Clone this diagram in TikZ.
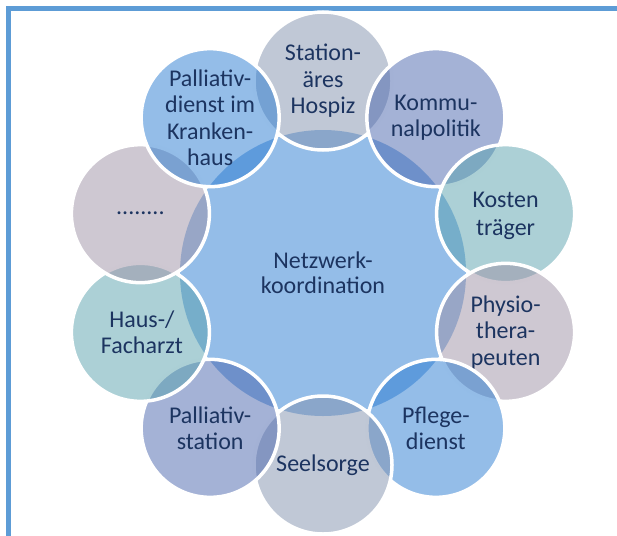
\documentclass[tikz,border=0pt]{standalone}
\usepackage{fontspec}
\setmainfont{Carlito}
\usetikzlibrary{calc}
\definecolor{framec}{RGB}{93,156,214}
\definecolor{navy}{RGB}{28,52,96}
\definecolor{cblue}{RGB}{41,123,209}
\definecolor{cgray}{RGB}{129,145,173}
\definecolor{cviolet}{RGB}{73,101,173}
\definecolor{cteal}{RGB}{89,161,173}
\definecolor{cmauve}{RGB}{157,145,165}
\definecolor{centerc}{RGB}{148,189,232}
\newcommand\lblfont{\fontsize{24pt}{26.5pt}\selectfont}
\newcommand\ctrfont{\fontsize{24pt}{25pt}\selectfont}
\tikzset{
  outercirc/.style={circle, minimum size=138pt, inner sep=0pt, fill=#1, fill opacity=0.5, draw=white, draw opacity=1, line width=3.5pt},
  centercirc/.style={circle, minimum size=286pt, inner sep=0pt, fill=centerc},
  lbl/.style={text=navy, align=center, font=\lblfont, inner sep=0pt},
  ctrlbl/.style={text=navy, align=center, font=\ctrfont, inner sep=0pt},
  framel/.style={draw=framec, line width=4.5pt}
}
\begin{document}
\begin{tikzpicture}[x=1pt,y=-1pt]
\useasboundingbox (0,0) rectangle (617,535);
\clip (0,0) rectangle (617,535);
\draw[framel] (8.5,8.5) rectangle (660,580);
\coordinate (M) at (323,273);
\node[centercirc] (ctr) at (M) {};
\node[ctrlbl] (ctrt) at (M) {Netzwerk-\\koordination};
% outer circles, clockwise from top
\node[outercirc=cgray] (c1) at ($(M)+(90:192pt)$) {};
\node[lbl] (t1) at (c1) {Station-\\äres\\Hospiz};
\node[outercirc=cviolet] (c2) at ($(M)+(54:192pt)$) {};
\node[lbl] (t2) at (c2) {Kommu-\\nalpolitik};
\node[outercirc=cteal] (c3) at ($(M)+(18:192pt)$) {};
\node[lbl] (t3) at ([yshift=-2pt]c3) {Kosten\\[1pt]träger};
\node[outercirc=cmauve] (c4) at ($(M)+(-18:192pt)$) {};
\node[lbl] (t4) at (c4) {Physio-\\thera-\\peuten};
\node[outercirc=cblue] (c5) at ($(M)+(-54:192pt)$) {};
\node[lbl] (t5) at (c5) {Pflege-\\dienst};
\node[outercirc=cgray] (c6) at ($(M)+(-90:192pt)$) {};
\node[lbl] (t6) at (c6) {Seelsorge};
\node[outercirc=cviolet] (c7) at ($(M)+(-126:192pt)$) {};
\node[lbl] (t7) at (c7) {Palliativ-\\station};
\node[outercirc=cteal] (c8) at ($(M)+(-162:192pt)$) {};
\node[lbl] (t8) at ([xshift=1.5pt]c8) {Haus-/\\Facharzt};
\node[outercirc=cmauve] (c9) at ($(M)+(162:192pt)$) {};
\node[lbl] (t9) at (c9) {........};
\node[outercirc=cblue] (c10) at ($(M)+(126:192pt)$) {};
\node[lbl] (t10) at (c10) {Palliativ-\\dienst im\\Kranken-\\haus};
\end{tikzpicture}
\end{document}
